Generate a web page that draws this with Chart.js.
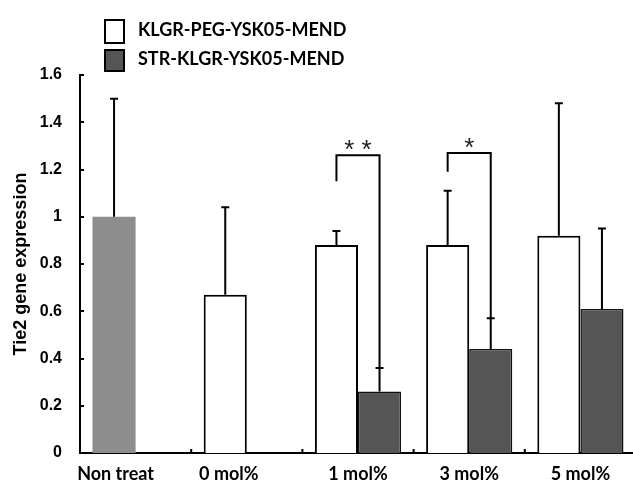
<!DOCTYPE html>
<html>
<head>
<meta charset="utf-8">
<script src="https://cdn.jsdelivr.net/npm/chart.js@4.4.1/dist/chart.umd.min.js"></script>
<style>
  html, body { margin: 0; padding: 0; background: #fff; overflow: hidden; }
  #wrap { position: absolute; left: 0; top: 0; width: 650px; height: 484px; }
</style>
</head>
<body>
<div id="wrap"><canvas id="chart"></canvas></div>
<script>
// dati
const categorie = ['Non treat', '0 mol%', '1 mol%', '3 mol%', '5 mol%'];
const serieNomi = ['KLGR-PEG-YSK05-MEND', 'STR-KLGR-YSK05-MEND'];
const valoriPeg = [1.00, 0.67, 0.88, 0.88, 0.92];
const errPeg = [0.50, 0.37, 0.06, 0.23, 0.56];
const valoriStr = [null, null, 0.26, 0.44, 0.61];
const errStr = [null, null, 0.10, 0.13, 0.34];
const yTicks = [0, 0.2, 0.4, 0.6, 0.8, 1, 1.2, 1.4, 1.6];
// parentesi di significatività
const sigCategorie = ['1 mol%', '3 mol%'];
const sigTop = [1.26, 1.27];
const sigPiede = [1.15, 1.19];
const sigSegni = ['**', '*'];

// stile
const GRIGIO_SCURO = '#555555';
const GRIGIO_CHIARO = '#8d8d8d';
const spostaEtichette = [-20, -18, 0, 0, 0]; // etichette x un po' a sinistra come nell'originale

const coloriPeg = categorie.map((c, i) => i === 0 ? GRIGIO_CHIARO : '#ffffff');
const bordiPeg = categorie.map((c, i) => i === 0 ? 0 : 2);

// disegna barre d'errore, parentesi, tacche, legenda ed etichette x
const extraPlugin = {
    id: 'extra',
    afterDatasetsDraw(chart) {
        const ctx = chart.ctx;
        const y = chart.scales.y;
        ctx.save();
        ctx.strokeStyle = '#000';
        ctx.lineWidth = 2;
        // barre d'errore (solo verso l'alto)
        [[valoriPeg, errPeg], [valoriStr, errStr]].forEach(([vals, errs], d) => {
            const meta = chart.getDatasetMeta(d);
            vals.forEach((v, i) => {
                if (v === null || errs[i] === null) return;
                const bx = meta.data[i].x;
                const y0 = y.getPixelForValue(v);
                const y1 = y.getPixelForValue(v + errs[i]);
                ctx.beginPath();
                ctx.moveTo(bx, y0);
                ctx.lineTo(bx, y1);
                ctx.moveTo(bx - 4, y1);
                ctx.lineTo(bx + 4, y1);
                ctx.stroke();
            });
        });
        // parentesi
        sigCategorie.forEach((cat, k) => {
            const i = categorie.indexOf(cat);
            const xl = chart.getDatasetMeta(0).data[i].x;
            const xr = chart.getDatasetMeta(1).data[i].x;
            const yt = y.getPixelForValue(sigTop[k]);
            const yl = y.getPixelForValue(sigPiede[k]);
            const yr = y.getPixelForValue(valoriStr[i] + errStr[i]);
            ctx.beginPath();
            ctx.moveTo(xl, yl);
            ctx.lineTo(xl, yt);
            ctx.lineTo(xr, yt);
            ctx.lineTo(xr, yr);
            ctx.stroke();
            ctx.fillStyle = '#222';
            ctx.font = '26px "Liberation Sans"';
            ctx.textAlign = 'center';
            ctx.textBaseline = 'alphabetic';
            ctx.fillText(sigSegni[k].split('').join(' '), (xl + xr) / 2, yt + 3);
        });
        ctx.restore();
    },
    afterDraw(chart) {
        const ctx = chart.ctx;
        const y = chart.scales.y;
        const x = chart.scales.x;
        const area = chart.chartArea;
        ctx.save();
        ctx.strokeStyle = '#000';
        ctx.lineWidth = 2;
        // tacche interne asse y
        yTicks.forEach(t => {
            const py = Math.round(y.getPixelForValue(t));
            ctx.beginPath();
            ctx.moveTo(area.left, py);
            ctx.lineTo(area.left + 4, py);
            ctx.stroke();
        });
        // tacche asse x tra le categorie
        for (let i = 0; i < categorie.length - 1; i++) {
            const px = (x.getPixelForValue(i) + x.getPixelForValue(i + 1)) / 2;
            ctx.beginPath();
            ctx.moveTo(px, area.bottom);
            ctx.lineTo(px, area.bottom - 4);
            ctx.stroke();
        }
        // etichette x
        ctx.fillStyle = '#000';
        ctx.font = 'bold 18px Lato';
        ctx.textAlign = 'center';
        ctx.textBaseline = 'middle';
        categorie.forEach((c, i) => {
            ctx.fillText(c, x.getPixelForValue(i) + spostaEtichette[i], 474);
        });
        // legenda
        const boxes = [[104, 19, 21, 25, '#ffffff'], [104, 49, 21, 23, GRIGIO_SCURO]];
        boxes.forEach(([bx, by, bw, bh, col], k) => {
            ctx.fillStyle = col;
            ctx.fillRect(bx, by, bw, bh);
            ctx.lineWidth = 2;
            ctx.strokeRect(bx + 1, by + 1, bw - 2, bh - 2);
            ctx.fillStyle = '#000';
            ctx.font = 'bold 18px Lato';
            ctx.textAlign = 'left';
            ctx.textBaseline = 'middle';
            ctx.fillText(serieNomi[k], 138, k === 0 ? 30 : 59);
        });
        ctx.restore();
    }
};

const ctx = document.getElementById('chart');
const chart = new Chart(ctx, {
    type: 'bar',
    data: {
        labels: categorie,
        datasets: [{
            label: serieNomi[0],
            data: valoriPeg,
            backgroundColor: coloriPeg,
            borderColor: '#000',
            borderWidth: bordiPeg,
            borderSkipped: 'bottom'
        }, {
            label: serieNomi[1],
            data: valoriStr,
            backgroundColor: GRIGIO_SCURO,
            borderColor: '#111',
            borderWidth: 1.5,
            borderSkipped: 'bottom'
        }]
    },
    options: {
        responsive: true,
        maintainAspectRatio: false,
        animation: false,
        layout: { padding: { left: 0, top: 75, right: 14, bottom: 0 } },
        datasets: { bar: { categoryPercentage: 0.775, barPercentage: 1 } },
        plugins: {
            legend: { display: false },
            tooltip: { enabled: false }
        },
        scales: {
            x: {
                grid: { display: false, drawTicks: false },
                border: { display: true, color: '#000', width: 2 },
                ticks: { display: false },
                afterFit: s => { s.height = 31; }
            },
            y: {
                min: 0,
                max: 1.6,
                afterBuildTicks: s => { s.ticks = yTicks.map(v => ({ value: v })); },
                grid: { display: false, drawTicks: false },
                border: { display: true, color: '#000', width: 2 },
                ticks: {
                    padding: 18,
                    color: '#000',
                    font: { family: '"Liberation Sans"', weight: 'bold', size: 16 },
                    callback: v => String(Number(v.toFixed(1)))
                },
                title: {
                    display: true,
                    text: 'Tie2 gene expression',
                    color: '#000',
                    font: { family: '"Liberation Sans"', weight: 'bold', size: 18 },
                    padding: { top: 10, bottom: 0 }
                },
                afterFit: s => { s.width = 80; }
            }
        }
    },
    plugins: [extraPlugin]
});
</script>
</body>
</html>
